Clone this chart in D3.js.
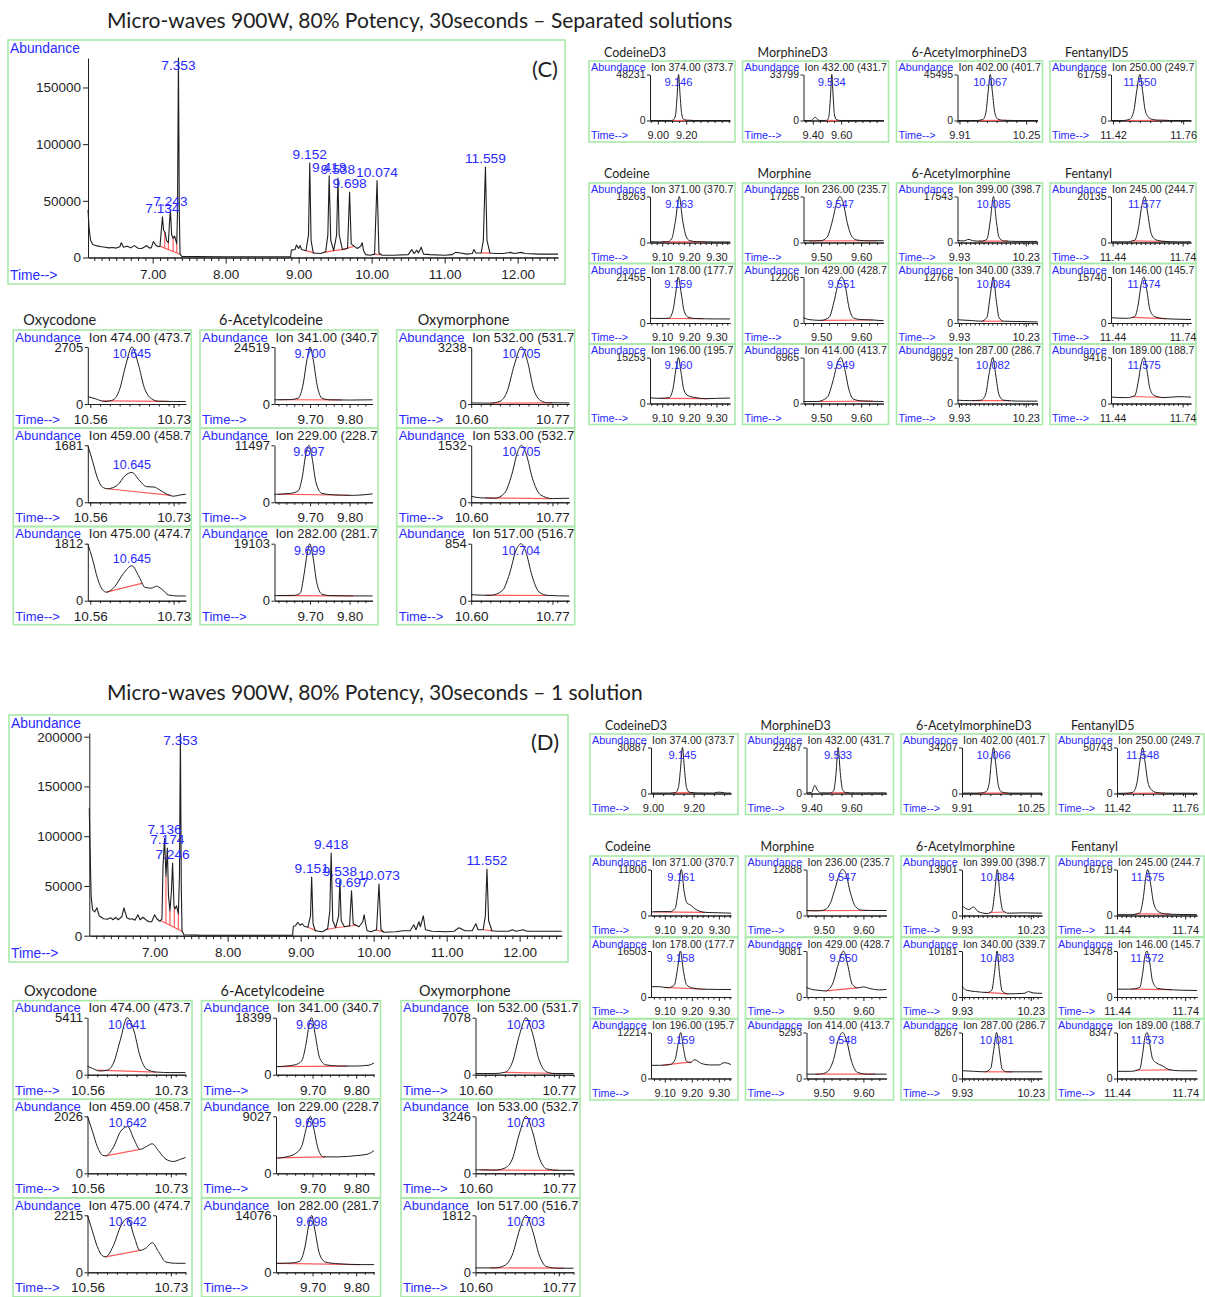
<!DOCTYPE html>
<html><head><meta charset="utf-8">
<script src="https://cdn.jsdelivr.net/npm/d3@7"></script>
<style>body{margin:0;background:#fff} svg{display:block}</style>
</head><body>
<svg id="fig" width="1205" height="1297"></svg>
<script>
// ---------- data ----------
const sectionTitles = [
  "Micro-waves 900W, 80% Potency, 30seconds \u2013 Separated solutions",
  "Micro-waves 900W, 80% Potency, 30seconds \u2013 1 solution"
];
const sectionTags = ["(C)", "(D)"];

const ticXTicks = [7, 8, 9, 10, 11, 12];
const ticYTicksC = [0, 50000, 100000, 150000];
const ticYTicksD = [0, 50000, 100000, 150000, 200000];

// total ion chromatogram, separated solutions
const ticC = [[6.114,42000],[6.13,25000],[6.15,15000],[6.18,11500],[6.22,10500],[6.30,9500],[6.35,9000],[6.40,8500],[6.45,8800],[6.50,8300],[6.55,9500],[6.57,13000],[6.60,9000],[6.65,10000],[6.70,8500],[6.75,10500],[6.80,8200],[6.85,8000],[6.88,9000],[6.92,10500],[6.95,8500],[6.98,8500],[7.01,14000],[7.04,11000],[7.08,9500],[7.10,10000],[7.12,25000],[7.134,36000],[7.15,24000],[7.17,22000],[7.19,15000],[7.215,13000],[7.23,30000],[7.243,42000],[7.26,20000],[7.28,17000],[7.30,19000],[7.33,12000],[7.34,40000],[7.353,176000],[7.365,40000],[7.375,3000],[7.40,1000],[7.6,800],[8.0,700],[8.5,600],[8.89,700],[8.90,6500],[8.95,7000],[8.97,11000],[9.0,8000],[9.02,10500],[9.04,7000],[9.10,6000],[9.135,20000],[9.152,83400],[9.17,15000],[9.20,4000],[9.30,3500],[9.37,5000],[9.40,20000],[9.418,72000],[9.44,15000],[9.48,6000],[9.52,20000],[9.538,70000],[9.555,20000],[9.60,7000],[9.67,8000],[9.698,57800],[9.72,12000],[9.80,8000],[9.85,10000],[9.87,13000],[9.89,6000],[9.92,2500],[9.98,2000],[10.04,3000],[10.074,67800],[10.10,4000],[10.14,2000],[10.30,2000],[10.50,2500],[10.55,7000],[10.58,3500],[10.62,6500],[10.64,4000],[10.68,9000],[10.71,3000],[10.80,2500],[11.0,2000],[11.10,2500],[11.15,4500],[11.22,4000],[11.30,3000],[11.38,3500],[11.40,7000],[11.43,4000],[11.50,4000],[11.53,15000],[11.559,79900],[11.58,15000],[11.62,4000],[11.70,3500],[11.80,3500],[11.90,4500],[11.95,3500],[12.05,4500],[12.10,3500],[12.30,3000],[12.553,3000]];
const ticPeaksC = [7.134, 7.243, 7.353, 9.152, 9.418, 9.538, 9.698, 10.074, 11.559];
const ticBaselinesC = [[7.10,7.38],[9.10,9.22],[9.35,9.48],[9.48,9.60],[9.60,9.76],[10.03,10.13],[11.50,11.63]];
const ticDropsC = [7.165, 7.215, 7.28, 7.33];

// total ion chromatogram, one solution
const ticD = [[6.105,128000],[6.115,90000],[6.13,40000],[6.15,26000],[6.18,24000],[6.21,28000],[6.24,20000],[6.30,17000],[6.35,16500],[6.40,18000],[6.43,16000],[6.47,18500],[6.50,16000],[6.55,19000],[6.58,28000],[6.62,18000],[6.66,16500],[6.70,17000],[6.73,15500],[6.77,21000],[6.80,16000],[6.84,18500],[6.88,16000],[6.92,14000],[6.96,14000],[7.00,21000],[7.03,17000],[7.07,14500],[7.10,17000],[7.115,70000],[7.136,98000],[7.155,60000],[7.174,88000],[7.19,40000],[7.21,25000],[7.23,45000],[7.246,73000],[7.265,30000],[7.28,27000],[7.30,30000],[7.325,22000],[7.34,60000],[7.353,203000],[7.365,50000],[7.375,5000],[7.40,1000],[7.6,600],[8.0,500],[8.5,500],[8.89,500],[8.90,9500],[8.93,10000],[8.96,13500],[8.99,10500],[9.02,12000],[9.05,9500],[9.10,8500],[9.135,20000],[9.151,59000],[9.17,12000],[9.20,5000],[9.30,4000],[9.37,7000],[9.40,25000],[9.418,83000],[9.44,15000],[9.48,8000],[9.52,20000],[9.538,56000],[9.555,15000],[9.60,9000],[9.67,10000],[9.697,45000],[9.72,12000],[9.80,9000],[9.85,14000],[9.87,21000],[9.89,12000],[9.91,5000],[9.96,4000],[10.04,6000],[10.073,52000],[10.10,6000],[10.14,3500],[10.30,4000],[10.40,5000],[10.50,5000],[10.55,11000],[10.58,6000],[10.62,14000],[10.64,9000],[10.68,20000],[10.71,6000],[10.80,4500],[11.0,4000],[11.10,4500],[11.17,8000],[11.25,5000],[11.35,5000],[11.40,12000],[11.43,6000],[11.50,6000],[11.53,20000],[11.552,67000],[11.575,15000],[11.62,5000],[11.70,4500],[11.85,4500],[11.90,6000],[11.95,4500],[12.05,6000],[12.10,4500],[12.30,4500],[12.576,4500]];
const ticPeaksD = [7.136, 7.174, 7.246, 7.353, 9.151, 9.418, 9.538, 9.697, 10.073, 11.552];
const ticBaselinesD = [[7.08,7.38],[9.10,9.22],[9.35,9.48],[9.48,9.60],[9.60,9.76],[10.03,10.13],[11.50,11.63]];
const ticDropsD = [7.155, 7.21, 7.27, 7.325];

const istdNames = ["CodeineD3", "MorphineD3", "6-AcetylmorphineD3", "FentanylD5"];
const targetNames = ["Codeine", "Morphine", "6-Acetylmorphine", "Fentanyl"];
const otherNames = ["Oxycodone", "6-Acetylcodeine", "Oxymorphone"];

// extracted ion chromatograms, separated solutions: internal standards
const istdC = [
  {ion:"Ion 374.00 (373.7", max:48231, rt:9.146, ticks:[9.00,9.20], dom:[8.945,9.508], red:[9.09,9.24],
   tr:[[8.945,0],[9.09,0],[9.11,600],[9.125,6000],[9.135,24000],[9.146,48231],[9.157,26000],[9.168,7000],[9.18,1500],[9.20,300],[9.25,0],[9.508,0]]},
  {ion:"Ion 432.00 (431.7", max:33799, rt:9.534, ticks:[9.40,9.60], dom:[9.335,9.898], red:[9.48,9.60],
   tr:[[9.335,0],[9.39,0],[9.405,1500],[9.418,2400],[9.43,1200],[9.45,0],[9.49,0],[9.505,500],[9.516,5000],[9.525,18000],[9.534,33799],[9.543,19000],[9.552,5000],[9.565,800],[9.59,0],[9.898,0]]},
  {ion:"Ion 402.00 (401.7", max:45495, rt:10.067, ticks:[9.91,10.25], dom:[9.90,10.308], red:[9.98,10.15],
   tr:[[9.90,0],[10.00,0],[10.03,1000],[10.045,8000],[10.056,28000],[10.067,45495],[10.078,28000],[10.09,8000],[10.105,1500],[10.13,200],[10.20,0],[10.308,0]]},
  {ion:"Ion 250.00 (249.7", max:61759, rt:11.550, ticks:[11.42,11.76], dom:[11.41,11.798], red:[11.47,11.68],
   tr:[[11.41,0],[11.47,0],[11.50,1500],[11.52,12000],[11.535,40000],[11.550,61759],[11.562,42000],[11.575,15000],[11.59,5000],[11.61,1500],[11.64,400],[11.70,0],[11.798,0]]}
];

// separated solutions: target ions, one column per compound
const targetsC = [
  [
    {ion:"Ion 371.00 (370.7", max:18263, rt:9.163, ticks:[9.10,9.20,9.30], dom:[9.055,9.350], red:[9.10,9.26],
     tr:[[9.055,300],[9.09,200],[9.12,300],[9.135,1500],[9.148,8000],[9.163,18263],[9.175,9000],[9.188,2500],[9.20,800],[9.23,300],[9.30,200],[9.35,200]]},
    {ion:"Ion 178.00 (177.7", max:21455, rt:9.159, ticks:[9.10,9.20,9.30], dom:[9.055,9.350], red:[9.10,9.25],
     tr:[[9.055,2200],[9.10,2100],[9.125,2300],[9.14,6000],[9.15,14000],[9.159,21455],[9.17,14000],[9.18,6000],[9.195,2800],[9.22,2100],[9.30,1900],[9.35,1900]]},
    {ion:"Ion 196.00 (195.7", max:15253, rt:9.160, ticks:[9.10,9.20,9.30], dom:[9.055,9.350], red:[9.09,9.27],
     tr:[[9.055,1900],[9.09,1700],[9.125,1900],[9.14,5000],[9.15,11000],[9.160,15253],[9.17,10000],[9.18,4500],[9.195,2600],[9.22,2000],[9.26,1600],[9.30,1700],[9.35,1800]]}
  ],
  [
    {ion:"Ion 236.00 (235.7", max:17255, rt:9.547, ticks:[9.50,9.60], dom:[9.456,9.656], red:[9.47,9.64],
     tr:[[9.456,700],[9.48,600],[9.50,700],[9.515,2000],[9.528,8000],[9.54,15500],[9.547,17255],[9.555,15000],[9.566,7000],[9.578,2000],[9.59,900],[9.62,600],[9.656,700]]},
    {ion:"Ion 429.00 (428.7", max:12206, rt:9.551, ticks:[9.50,9.60], dom:[9.456,9.656], red:[9.50,9.63],
     tr:[[9.456,1400],[9.47,900],[9.50,700],[9.52,1500],[9.533,6000],[9.544,11000],[9.551,12206],[9.56,10000],[9.57,4000],[9.582,1300],[9.60,900],[9.63,800],[9.656,600]]},
    {ion:"Ion 414.00 (413.7", max:6965, rt:9.549, ticks:[9.50,9.60], dom:[9.456,9.656], red:[9.49,9.63],
     tr:[[9.456,300],[9.49,300],[9.515,900],[9.53,3500],[9.542,6300],[9.549,6965],[9.558,5500],[9.57,2000],[9.58,700],[9.60,400],[9.656,300]]}
  ],
  [
    {ion:"Ion 399.00 (398.7", max:17543, rt:10.085, ticks:[9.93,10.23], dom:[9.923,10.283], red:[10.02,10.15],
     tr:[[9.923,800],[9.95,600],[9.975,1200],[9.99,700],[10.03,500],[10.055,1200],[10.07,8000],[10.085,17543],[10.098,8000],[10.11,2000],[10.13,600],[10.20,400],[10.283,400]]},
    {ion:"Ion 340.00 (339.7", max:12766, rt:10.084, ticks:[9.93,10.23], dom:[9.923,10.283], red:[10.03,10.13],
     tr:[[9.923,900],[9.98,700],[10.03,500],[10.055,1500],[10.07,7500],[10.084,12766],[10.097,6500],[10.11,1500],[10.13,500],[10.20,400],[10.283,300]]},
    {ion:"Ion 287.00 (286.7", max:9692, rt:10.082, ticks:[9.93,10.23], dom:[9.923,10.283], red:[9.99,10.16],
     tr:[[9.923,700],[9.98,600],[10.03,700],[10.05,2000],[10.066,6500],[10.082,9692],[10.095,6000],[10.11,1800],[10.13,700],[10.20,500],[10.283,500]]}
  ],
  [
    {ion:"Ion 245.00 (244.7", max:20135, rt:11.577, ticks:[11.44,11.74], dom:[11.433,11.776], red:[11.52,11.68],
     tr:[[11.433,300],[11.50,300],[11.535,1000],[11.55,6000],[11.565,16000],[11.577,20135],[11.59,13000],[11.605,4000],[11.625,1200],[11.66,500],[11.72,300],[11.776,300]]},
    {ion:"Ion 146.00 (145.7", max:15740, rt:11.574, ticks:[11.44,11.74], dom:[11.433,11.776], red:[11.52,11.67],
     tr:[[11.433,1800],[11.50,1600],[11.535,2200],[11.55,6500],[11.562,13000],[11.574,15740],[11.587,11000],[11.60,4500],[11.62,2200],[11.66,1500],[11.72,1300],[11.776,1200]]},
    {ion:"Ion 189.00 (188.7", max:9416, rt:11.575, ticks:[11.44,11.74], dom:[11.433,11.776], red:[11.52,11.67],
     tr:[[11.433,1300],[11.50,1200],[11.535,1600],[11.55,4500],[11.562,8000],[11.575,9416],[11.588,6500],[11.60,3000],[11.62,1600],[11.66,1200],[11.72,1400],[11.776,1300]]}
  ]
];

// separated solutions: oxycodone, 6-acetylcodeine, oxymorphone
const othersC = [
  [
    {ion:"Ion 474.00 (473.7", max:2705, rt:10.645, ticks:[10.56,10.73], dom:[10.555,10.755], red:[10.585,10.72],
     tr:[[10.555,350],[10.57,250],[10.59,120],[10.607,200],[10.62,700],[10.632,1800],[10.645,2705],[10.658,1900],[10.67,800],[10.685,250],[10.70,130],[10.73,120],[10.755,120]]},
    {ion:"Ion 459.00 (458.7", max:1681, rt:10.645, ticks:[10.56,10.73], dom:[10.555,10.755], red:[10.595,10.725],
     tr:[[10.555,1681],[10.565,1200],[10.575,700],[10.585,450],[10.595,400],[10.615,500],[10.632,800],[10.645,880],[10.66,650],[10.675,460],[10.69,450],[10.70,380],[10.715,250],[10.73,180],[10.745,220],[10.755,240]]},
    {ion:"Ion 475.00 (474.7", max:1812, rt:10.645, ticks:[10.56,10.73], dom:[10.555,10.755], red:[10.593,10.667],
     tr:[[10.555,1812],[10.565,1300],[10.575,700],[10.585,350],[10.593,270],[10.61,450],[10.627,850],[10.645,1110],[10.66,750],[10.672,420],[10.685,400],[10.695,460],[10.705,380],[10.72,180],[10.74,150],[10.755,150]]}
  ],
  [
    {ion:"Ion 341.00 (340.7", max:24519, rt:9.700, ticks:[9.70,9.80], dom:[9.61,9.858], red:[9.62,9.78],
     tr:[[9.61,1800],[9.65,1900],[9.67,2500],[9.683,9000],[9.692,19000],[9.700,24519],[9.708,19000],[9.718,8000],[9.73,2500],[9.75,1800],[9.80,1700],[9.858,1800]]},
    {ion:"Ion 229.00 (228.7", max:11497, rt:9.697, ticks:[9.70,9.80], dom:[9.61,9.858], red:[9.62,9.80],
     tr:[[9.61,1600],[9.65,1800],[9.67,2300],[9.68,5000],[9.69,10000],[9.697,11497],[9.705,9000],[9.715,4000],[9.73,1800],[9.76,1500],[9.81,1400],[9.858,1700]]},
    {ion:"Ion 282.00 (281.7", max:19103, rt:9.699, ticks:[9.70,9.80], dom:[9.61,9.858], red:[9.62,9.81],
     tr:[[9.61,1700],[9.66,1800],[9.675,2500],[9.685,9000],[9.693,16000],[9.699,19103],[9.707,15000],[9.717,6000],[9.73,2200],[9.75,1700],[9.81,1600],[9.858,1600]]}
  ],
  [
    {ion:"Ion 532.00 (531.7", max:3238, rt:10.705, ticks:[10.60,10.77], dom:[10.60,10.805], red:[10.64,10.77],
     tr:[[10.60,60],[10.64,50],[10.66,150],[10.675,700],[10.69,2200],[10.705,3238],[10.718,2400],[10.73,900],[10.745,200],[10.76,70],[10.805,60]]},
    {ion:"Ion 533.00 (532.7", max:1532, rt:10.705, ticks:[10.60,10.77], dom:[10.60,10.805], red:[10.63,10.77],
     tr:[[10.60,160],[10.62,120],[10.65,110],[10.67,250],[10.685,750],[10.697,1350],[10.705,1532],[10.715,1300],[10.728,650],[10.745,200],[10.77,100],[10.805,110]]},
    {ion:"Ion 517.00 (516.7", max:854, rt:10.704, ticks:[10.60,10.77], dom:[10.60,10.805], red:[10.63,10.77],
     tr:[[10.60,90],[10.64,80],[10.665,150],[10.68,400],[10.694,760],[10.704,854],[10.714,740],[10.727,380],[10.742,130],[10.76,80],[10.805,70]]}
  ]
];

// one solution: internal standards
const istdD = [
  {ion:"Ion 374.00 (373.7", max:30887, rt:9.145, ticks:[9.00,9.20], dom:[8.99,9.384], red:[9.10,9.20],
   tr:[[8.99,300],[9.08,300],[9.11,500],[9.125,4000],[9.135,16000],[9.145,30887],[9.155,16000],[9.165,4000],[9.18,800],[9.22,400],[9.30,300],[9.32,900],[9.34,700],[9.36,300],[9.384,300]]},
  {ion:"Ion 432.00 (431.7", max:22487, rt:9.533, ticks:[9.40,9.60], dom:[9.375,9.775], red:[9.49,9.58],
   tr:[[9.375,300],[9.40,500],[9.417,4000],[9.43,1500],[9.45,300],[9.49,300],[9.51,1200],[9.522,9000],[9.533,22487],[9.544,10000],[9.555,2000],[9.57,500],[9.62,300],[9.775,300]]},
  {ion:"Ion 402.00 (401.7", max:34207, rt:10.066, ticks:[9.91,10.25], dom:[9.91,10.306], red:[9.99,10.14],
   tr:[[9.91,300],[10.00,300],[10.03,1500],[10.045,8000],[10.056,25000],[10.066,34207],[10.077,22000],[10.09,6000],[10.105,1200],[10.14,300],[10.306,300]]},
  {ion:"Ion 250.00 (249.7", max:50743, rt:11.548, ticks:[11.42,11.76], dom:[11.42,11.82], red:[11.46,11.66],
   tr:[[11.42,200],[11.47,300],[11.50,1500],[11.52,12000],[11.535,36000],[11.548,50743],[11.56,35000],[11.575,12000],[11.595,3500],[11.62,1000],[11.66,400],[11.82,300]]}
];

// one solution: target ions
const targetsD = [
  [
    {ion:"Ion 371.00 (370.7", max:11800, rt:9.161, ticks:[9.10,9.20,9.30], dom:[9.049,9.345], red:[9.06,9.25],
     tr:[[9.049,900],[9.08,1000],[9.12,1000],[9.138,1800],[9.15,6500],[9.161,11800],[9.172,6000],[9.182,3200],[9.195,2700],[9.21,1800],[9.25,800],[9.30,700],[9.345,600]]},
    {ion:"Ion 178.00 (177.7", max:16503, rt:9.158, ticks:[9.10,9.20,9.30], dom:[9.049,9.345], red:[9.10,9.25],
     tr:[[9.049,3700],[9.08,3700],[9.11,3300],[9.135,4200],[9.147,10000],[9.158,16503],[9.168,10000],[9.18,4500],[9.20,3300],[9.24,2800],[9.30,2700],[9.345,2700]]},
    {ion:"Ion 196.00 (195.7", max:12214, rt:9.159, ticks:[9.10,9.20,9.30], dom:[9.049,9.345], red:[9.093,9.199],
     tr:[[9.049,3500],[9.08,3500],[9.12,3700],[9.138,5000],[9.149,9000],[9.159,12214],[9.169,8000],[9.18,4600],[9.195,4200],[9.21,5000],[9.235,4000],[9.27,3600],[9.30,3600],[9.32,4200],[9.345,3700]]}
  ],
  [
    {ion:"Ion 236.00 (235.7", max:12888, rt:9.547, ticks:[9.50,9.60], dom:[9.457,9.658], red:[9.46,9.63],
     tr:[[9.457,1400],[9.48,1300],[9.50,1500],[9.515,3000],[9.53,8000],[9.542,12300],[9.547,12888],[9.555,12000],[9.567,6500],[9.58,2500],[9.595,1500],[9.62,1400],[9.658,1400]]},
    {ion:"Ion 429.00 (428.7", max:9081, rt:9.550, ticks:[9.50,9.60], dom:[9.457,9.658], red:[9.505,9.585],
     tr:[[9.457,1900],[9.47,1500],[9.49,1300],[9.505,1200],[9.522,2500],[9.537,6500],[9.550,9081],[9.56,6500],[9.572,2500],[9.585,1800],[9.60,2000],[9.615,1700],[9.64,1400],[9.658,1500]]},
    {ion:"Ion 414.00 (413.7", max:5293, rt:9.548, ticks:[9.50,9.60], dom:[9.457,9.658], red:[9.48,9.63],
     tr:[[9.457,500],[9.49,500],[9.51,800],[9.525,2200],[9.537,4500],[9.548,5293],[9.558,4300],[9.57,2000],[9.585,700],[9.61,500],[9.658,500]]}
  ],
  [
    {ion:"Ion 399.00 (398.7", max:13901, rt:10.084, ticks:[9.93,10.23], dom:[9.93,10.279], red:[10.05,10.12],
     tr:[[9.93,3000],[9.96,1800],[9.98,2600],[10.00,1200],[10.04,600],[10.06,1200],[10.072,6500],[10.084,13901],[10.096,6000],[10.108,1500],[10.13,700],[10.20,800],[10.279,700]]},
    {ion:"Ion 340.00 (339.7", max:10181, rt:10.083, ticks:[9.93,10.23], dom:[9.93,10.279], red:[10.03,10.13],
     tr:[[9.93,2300],[9.95,1500],[9.99,1200],[10.04,1000],[10.06,1500],[10.072,5500],[10.083,10181],[10.094,5000],[10.105,1300],[10.13,700],[10.20,800],[10.22,1200],[10.24,900],[10.279,800]]},
    {ion:"Ion 287.00 (286.7", max:8267, rt:10.081, ticks:[9.93,10.23], dom:[9.93,10.279], red:[10.03,10.15],
     tr:[[9.93,1400],[9.98,1300],[10.03,1200],[10.055,1800],[10.068,5000],[10.081,8267],[10.093,5000],[10.105,1700],[10.125,1200],[10.20,1200],[10.279,1200]]}
  ],
  [
    {ion:"Ion 245.00 (244.7", max:16719, rt:11.575, ticks:[11.44,11.74], dom:[11.44,11.792], red:[11.52,11.68],
     tr:[[11.44,300],[11.50,300],[11.54,900],[11.555,6000],[11.567,14000],[11.575,16719],[11.587,12000],[11.60,5000],[11.62,1500],[11.65,600],[11.70,400],[11.792,300]]},
    {ion:"Ion 146.00 (145.7", max:13478, rt:11.572, ticks:[11.44,11.74], dom:[11.44,11.792], red:[11.50,11.68],
     tr:[[11.44,2300],[11.50,2300],[11.54,2800],[11.553,7000],[11.563,12000],[11.572,13478],[11.584,10000],[11.597,4500],[11.62,2500],[11.66,2200],[11.72,2000],[11.792,1900]]},
    {ion:"Ion 189.00 (188.7", max:8347, rt:11.573, ticks:[11.44,11.74], dom:[11.44,11.792], red:[11.52,11.68],
     tr:[[11.44,1300],[11.50,1300],[11.54,1700],[11.553,4500],[11.563,7500],[11.573,8347],[11.585,6000],[11.597,3500],[11.615,2800],[11.64,2300],[11.67,1600],[11.72,1400],[11.792,1400]]}
  ]
];

// one solution: oxycodone, 6-acetylcodeine, oxymorphone
const othersD = [
  [
    {ion:"Ion 474.00 (473.7", max:5411, rt:10.641, ticks:[10.56,10.73], dom:[10.56,10.76], red:[10.58,10.70],
     tr:[[10.56,800],[10.57,600],[10.585,350],[10.60,420],[10.613,1100],[10.627,3300],[10.641,5411],[10.654,4300],[10.667,1800],[10.68,550],[10.70,250],[10.73,200],[10.76,200]]},
    {ion:"Ion 459.00 (458.7", max:2026, rt:10.642, ticks:[10.56,10.73], dom:[10.56,10.76], red:[10.597,10.667],
     tr:[[10.56,2026],[10.57,1500],[10.58,950],[10.59,650],[10.597,620],[10.612,900],[10.628,1500],[10.642,1660],[10.655,1200],[10.667,850],[10.68,950],[10.692,1050],[10.705,800],[10.72,500],[10.735,420],[10.75,500],[10.76,560]]},
    {ion:"Ion 475.00 (474.7", max:2215, rt:10.642, ticks:[10.56,10.73], dom:[10.56,10.76], red:[10.597,10.667],
     tr:[[10.56,2215],[10.57,1600],[10.58,1000],[10.59,650],[10.597,600],[10.612,1000],[10.628,1800],[10.642,2100],[10.655,1400],[10.667,850],[10.68,950],[10.692,1150],[10.705,800],[10.72,400],[10.74,350],[10.76,350]]}
  ],
  [
    {ion:"Ion 341.00 (340.7", max:18399, rt:9.698, ticks:[9.70,9.80], dom:[9.616,9.841], red:[9.62,9.78],
     tr:[[9.616,2600],[9.64,2800],[9.66,3200],[9.675,4500],[9.685,10000],[9.692,16000],[9.698,18399],[9.706,13000],[9.716,5500],[9.73,3200],[9.76,2800],[9.80,2800],[9.83,3100],[9.841,3800]]},
    {ion:"Ion 229.00 (228.7", max:9027, rt:9.695, ticks:[9.70,9.80], dom:[9.616,9.841], red:[9.62,9.73],
     tr:[[9.616,2400],[9.64,2600],[9.66,3100],[9.675,4300],[9.687,7500],[9.695,9027],[9.703,7000],[9.713,3800],[9.725,2600],[9.76,2600],[9.80,2800],[9.825,3000],[9.841,3600]]},
    {ion:"Ion 282.00 (281.7", max:14076, rt:9.698, ticks:[9.70,9.80], dom:[9.616,9.841], red:[9.62,9.81],
     tr:[[9.616,2200],[9.65,2300],[9.67,2700],[9.682,6000],[9.691,11500],[9.698,14076],[9.706,10000],[9.716,4500],[9.73,2500],[9.76,2100],[9.81,1900],[9.841,1900]]}
  ],
  [
    {ion:"Ion 532.00 (531.7", max:7078, rt:10.703, ticks:[10.60,10.77], dom:[10.60,10.80], red:[10.66,10.77],
     tr:[[10.60,150],[10.64,150],[10.66,300],[10.675,1500],[10.69,5000],[10.703,7078],[10.716,5200],[10.73,1800],[10.745,350],[10.76,150],[10.80,150]]},
    {ion:"Ion 533.00 (532.7", max:3246, rt:10.703, ticks:[10.60,10.77], dom:[10.60,10.80], red:[10.61,10.77],
     tr:[[10.60,200],[10.64,180],[10.66,300],[10.675,800],[10.69,2300],[10.703,3246],[10.716,2400],[10.73,900],[10.745,250],[10.77,170],[10.80,170]]},
    {ion:"Ion 517.00 (516.7", max:1812, rt:10.703, ticks:[10.60,10.77], dom:[10.60,10.80], red:[10.63,10.78],
     tr:[[10.60,140],[10.64,140],[10.66,220],[10.675,550],[10.69,1350],[10.703,1812],[10.716,1350],[10.73,550],[10.745,180],[10.77,130],[10.80,130]]}
  ]
];

// ---------- drawing ----------
const svg = d3.select('#fig');
const BLUE = '#2a2aff', GREEN = '#a9e9a9', RED = '#ff5b5b', INK = '#1e1e1e';
const SANS = '"Liberation Sans", Arial, sans-serif';
const CAL = 'Lato, "Open Sans", sans-serif';
const fmtRT = d3.format('.3f'), fmtT = d3.format('.2f'), fmtInt = d3.format('d');

svg.append('rect').attr('width', 1205).attr('height', 1297).attr('fill', '#fff');

function valueAt(tr, t) {
  if (t <= tr[0][0]) return tr[0][1];
  for (let i = 1; i < tr.length; i++) {
    if (t <= tr[i][0]) {
      const [t0, v0] = tr[i - 1], [t1, v1] = tr[i];
      return v0 + (v1 - v0) * (t - t0) / (t1 - t0);
    }
  }
  return tr[tr.length - 1][1];
}

function styleAxis(sel, fs) {
  sel.selectAll('path, line').attr('stroke', INK).attr('stroke-width', 1);
  sel.selectAll('text').attr('font-family', SANS).attr('font-size', fs).attr('fill', INK);
}

function frame(g, x, y, w, h) {
  g.append('rect').attr('x', x).attr('y', y).attr('width', w).attr('height', h)
    .attr('fill', 'none').attr('stroke', GREEN).attr('stroke-width', 1.6);
}

function text(g, x, y, s, o) {
  return g.append('text').attr('x', x).attr('y', y).text(s)
    .attr('font-family', o.font || SANS).attr('font-size', o.fs)
    .attr('fill', o.fill || INK).attr('text-anchor', o.anchor || 'start');
}

// total ion chromatogram with integration marks
function drawTIC(o) {
  const g = svg.append('g');
  frame(g, ...o.box);
  const x = d3.scaleLinear().domain(o.xDom).range(o.xRange);
  const y = d3.scaleLinear().domain(o.yDom).range(o.yRange);
  const y0 = o.yRange[0];

  const minor = d3.range(Math.ceil(o.xDom[0] * 10), Math.floor(o.xDom[1] * 10) + 1)
    .map(i => i / 10).filter(t => Math.abs(t - Math.round(t)) > 1e-6);
  g.append('g').attr('transform', `translate(0,${y0})`)
    .call(d3.axisBottom(x).tickValues(minor).tickSize(3.5).tickSizeOuter(0).tickFormat(''))
    .call(s => styleAxis(s, 13.5));
  g.append('g').attr('transform', `translate(0,${y0})`)
    .call(d3.axisBottom(x).tickValues(ticXTicks).tickSize(6).tickSizeOuter(0).tickPadding(21.5 - 6 - 0.71 * 13.5).tickFormat(fmtT))
    .call(s => styleAxis(s, 13.5));
  g.append('g').attr('transform', `translate(${o.xRange[0]},0)`)
    .call(d3.axisLeft(y).tickValues(o.yTicks).tickSize(5).tickSizeOuter(0).tickPadding(2).tickFormat(fmtInt))
    .call(s => styleAxis(s, 13.5));

  // integration baselines and peak drops
  const line = d3.line().x(d => x(d[0])).y(d => y(d[1]));
  o.baselines.forEach(([a, b]) => {
    g.append('path').datum([[a, valueAt(o.trace, a)], [b, valueAt(o.trace, b)]])
      .attr('d', line).attr('stroke', RED).attr('stroke-width', 1.2).attr('fill', 'none');
  });
  const [ba, bb] = o.baselines[0];
  const va = valueAt(o.trace, ba), vb = valueAt(o.trace, bb);
  o.drops.forEach(t => {
    const base = va + (vb - va) * (t - ba) / (bb - ba);
    g.append('path').datum([[t, base], [t, valueAt(o.trace, t)]])
      .attr('d', line).attr('stroke', RED).attr('stroke-width', 1.2).attr('fill', 'none');
  });

  g.append('path').datum(o.trace).attr('d', line)
    .attr('fill', 'none').attr('stroke', INK).attr('stroke-width', 1.1).attr('stroke-linejoin', 'round');

  const top = o.yRange[1];
  o.peaks.forEach(rt => {
    const yy = Math.max(y(valueAt(o.trace, rt)) - 4, top + 12);
    text(g, x(rt), yy, fmtRT(rt), {fs: 13.7, fill: BLUE, anchor: 'middle'});
  });

  text(g, o.box[0] + 2, o.box[1] + 12.5, 'Abundance', {fs: 13.8, fill: BLUE});
  text(g, o.box[0] + 2, o.box[1] + o.box[3] - 4, 'Time-->', {fs: 13.8, fill: BLUE});
  text(g, o.tagPos[0], o.tagPos[1], o.tag, {fs: 22, font: CAL, anchor: 'middle'});
}

// extracted ion chromatogram panel
function drawPanel(rec, L, T, w, h, lay) {
  const g = svg.append('g');
  frame(g, L, T, w, h);
  const x = d3.scaleLinear().domain(rec.dom).range([L + lay.ax0, L + lay.ax1]);
  const y = d3.scaleLinear().domain([0, rec.max]).range([T + lay.y0, T + lay.yTop]);

  const minor = x.ticks(12).filter(t => !rec.ticks.some(m => Math.abs(m - t) < 1e-6));
  g.append('g').attr('transform', `translate(0,${T + lay.y0})`)
    .call(d3.axisBottom(x).tickValues(minor).tickSize(2.5).tickSizeOuter(0).tickFormat(''))
    .call(s => styleAxis(s, lay.fsTick));
  g.append('g').attr('transform', `translate(0,${T + lay.y0})`)
    .call(d3.axisBottom(x).tickValues(rec.ticks).tickSize(4).tickSizeOuter(0)
      .tickPadding(lay.lblBase - lay.y0 - 4 - 0.71 * lay.fsTick).tickFormat(fmtT))
    .call(s => styleAxis(s, lay.fsTick));
  g.append('g').attr('transform', `translate(${L + lay.ax0},0)`)
    .call(d3.axisLeft(y).tickValues([0, rec.max]).tickSize(3).tickSizeOuter(0).tickPadding(1.5).tickFormat(fmtInt))
    .call(s => styleAxis(s, lay.fs));

  const line = d3.line().x(d => x(d[0])).y(d => y(d[1]));
  g.append('path').datum(rec.red.map(t => [t, valueAt(rec.tr, t)]))
    .attr('d', line).attr('stroke', RED).attr('stroke-width', 1.2).attr('fill', 'none');
  g.append('path').datum(rec.tr).attr('d', line.curve(d3.curveMonotoneX))
    .attr('fill', 'none').attr('stroke', INK).attr('stroke-width', 1).attr('stroke-linejoin', 'round');

  const yy = Math.max(y(valueAt(rec.tr, rec.rt)) - 3, T + lay.yTop + 11);
  text(g, x(rec.rt), yy, fmtRT(rec.rt), {fs: lay.fsRt, fill: BLUE, anchor: 'middle'});
  text(g, L + 2, T + lay.abY, 'Abundance', {fs: lay.fsAb, fill: BLUE});
  text(g, L + lay.ionX, T + lay.abY, rec.ion, {fs: lay.fs});
  text(g, L + 2, T + lay.lblBase, 'Time-->', {fs: lay.fsAb, fill: BLUE});
}

const layRight = {ax0: 61, ax1: 141, yTop: 13.5, y0: 59.5, lblBase: 77.5, abY: 10, ionX: 62,
                  fs: 10.5, fsAb: 10.8, fsRt: 11.2, fsTick: 11};
const layLeft = {ax0: 74.5, ax1: 172.5, yTop: 17, y0: 74, lblBase: 94, abY: 11.5, ionX: 75.5,
                 fs: 13, fsAb: 13, fsRt: 12.5, fsTick: 13.5};

function drawSection(s) {
  text(svg, 107, s.titleY, s.title, {fs: 21, font: CAL});
  drawTIC(s.tic);
  // internal standards row
  s.istd.forEach((rec, i) => {
    drawPanel(rec, s.rightL[i], s.istdT, s.rightW, s.istdH, layRight);
    text(svg, s.rightL[i] + 15, s.istdT - 4.5, istdNames[i], {fs: 12.5, font: CAL});
  });
  // target ion columns
  s.targets.forEach((col, i) => {
    text(svg, s.rightL[i] + 15, s.targetT[0] - 5, targetNames[i], {fs: 12.5, font: CAL});
    col.forEach((rec, j) => drawPanel(rec, s.rightL[i], s.targetT[j], s.rightW, s.targetH, layRight));
  });
  // lower-left grid
  s.others.forEach((col, i) => {
    text(svg, s.leftL[i] + s.leftTitleDx[i], s.leftT[0] - 5, otherNames[i], {fs: 14.5, font: CAL});
    col.forEach((rec, j) => drawPanel(rec, s.leftL[i], s.leftT[j], s.leftW, s.leftH, layLeft));
  });
}

drawSection({
  title: sectionTitles[0], titleY: 28,
  tic: {box: [8, 40, 557, 244], xDom: [6.114, 12.553], xRange: [88, 558],
        yDom: [0, 176000], yRange: [257.5, 58], yTicks: ticYTicksC,
        trace: ticC, peaks: ticPeaksC, baselines: ticBaselinesC, drops: ticDropsC,
        tag: sectionTags[0], tagPos: [545, 77]},
  istd: istdC, targets: targetsC, others: othersC,
  rightL: [589, 742.5, 896.5, 1050], rightW: 146,
  istdT: 61, istdH: 81, targetT: [183, 263.5, 344], targetH: 80.5,
  leftL: [13.3, 200, 396.7], leftW: 178, leftT: [330, 428.3, 526.7], leftH: 98,
  leftTitleDx: [10, 19, 21]
});

drawSection({
  title: sectionTitles[1], titleY: 700,
  tic: {box: [9, 715, 559, 247], xDom: [6.105, 12.576], xRange: [89.3, 561.7],
        yDom: [0, 203700], yRange: [935.7, 733], yTicks: ticYTicksD,
        trace: ticD, peaks: ticPeaksD, baselines: ticBaselinesD, drops: ticDropsD,
        tag: sectionTags[1], tagPos: [545, 750]},
  istd: istdD, targets: targetsD, others: othersD,
  rightL: [590, 745.5, 901, 1056], rightW: 148,
  istdT: 734, istdH: 80.5, targetT: [856, 937.5, 1019], targetH: 81,
  leftL: [13, 201.5, 401], leftW: 179, leftT: [1000.7, 1099.3, 1198.3], leftH: 98.5,
  leftTitleDx: [11, 19, 18]
});
</script>
</body></html>
